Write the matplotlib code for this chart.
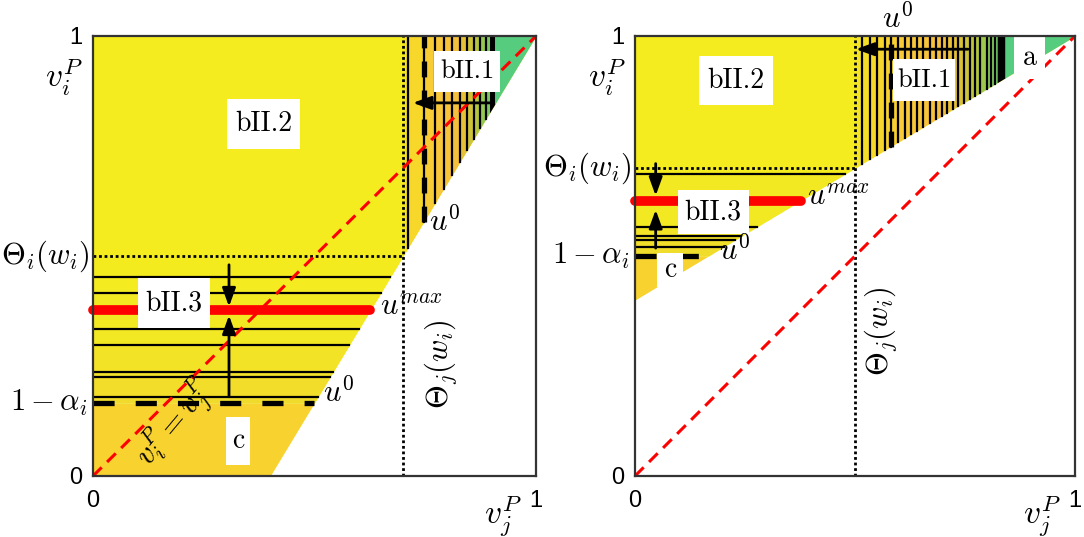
import matplotlib.pyplot as plt
import numpy as np
from matplotlib.colors import LinearSegmentedColormap
from matplotlib.path import Path

plt.rcParams["mathtext.fontset"] = "cm"
plt.rcParams["axes.formatter.use_mathtext"] = True

# boundary of the shaded region: left panel x = 0.4 + 0.6 y, right panel y = 0.4 + 0.6 x
edge_start = 0.4
edge_slope = 0.6

# left panel
L_theta_i = 0.5
L_theta_j = 0.7
L_one_minus_alpha = 0.166
L_u_max = 0.377
L_h_lines = [0.180, 0.225, 0.236, 0.298, 0.334, 0.416, 0.452]
L_v_lines = [0.711, 0.747, 0.772, 0.792, 0.810, 0.828, 0.844, 0.860, 0.874, 0.887]
L_black = [0.895, 0.907]
L_u0_line = 0.747

# right panel
R_theta_i = 0.7
R_theta_j = 0.5
R_one_minus_alpha = 0.5
R_u_max = 0.626
R_h_lines = [0.521, 0.536, 0.545, 0.566, 0.686]
R_v_lines = [0.517, 0.534, 0.550, 0.568, 0.581, 0.598, 0.614, 0.627, 0.641,
             0.655, 0.670, 0.684, 0.697, 0.708, 0.722, 0.734, 0.748, 0.761,
             0.773, 0.784, 0.799, 0.810, 0.818]
R_black = [0.823, 0.841]
R_u0_line = 0.581

YELLOW = "#F4EC1E"
GOLD = "#F8D22F"
GREEN = "#55CC7E"
stripe_cmap = LinearSegmentedColormap.from_list(
    "stripes",
    [(0, "#F3E626"), (0.15, "#F6D72A"), (0.35, "#F8C938"), (0.6, "#F6BF3E"),
     (0.72, "#E2C137"), (0.85, "#B8C63C"), (1.0, "#72CA68")],
)
band_cmap = LinearSegmentedColormap.from_list(
    "bands", [(0, "#F0DA2C"), (0.45, "#F3E824"), (1.0, YELLOW)]
)
serif = "cmr10"
MATH = 22


def box_style(padx, pady):
    # white label box, with more vertical padding than horizontal
    def style(x0, y0, width, height, mutation_size):
        px = padx * mutation_size
        py = pady * mutation_size
        verts = [(x0 - px, y0 - py), (x0 + width + px, y0 - py),
                 (x0 + width + px, y0 + height + py), (x0 - px, y0 + height + py),
                 (x0 - px, y0 - py)]
        return Path(verts, closed=True)
    return dict(boxstyle=style, facecolor="white", edgecolor="none")


def draw_panel(ax, flip, theta_i, theta_j, one_minus_alpha, u_max, h_lines, v_lines, black, u0_line):
    if flip:
        # region above y = 0.4 + 0.6 x
        def edge_x(y):
            return np.clip((np.asarray(y) - edge_start) / edge_slope, 0, 1)

        def edge_y(x):
            return np.clip(edge_start + edge_slope * np.asarray(x), 0, 1)
        y_bottom = edge_start
    else:
        def edge_x(y):
            return np.clip(edge_start + edge_slope * np.asarray(y), 0, 1)

        def edge_y(x):
            return np.clip((np.asarray(x) - edge_start) / edge_slope, 0, 1)
        y_bottom = 0.0

    # gold region below 1 - alpha
    yy = np.linspace(y_bottom, one_minus_alpha, 50)
    ax.fill_betweenx(yy, 0, edge_x(yy), color=GOLD, lw=0, zorder=1)
    # yellow region
    yy = np.linspace(one_minus_alpha, 1, 200)
    ax.fill_betweenx(yy, 0, edge_x(yy), color=YELLOW, lw=0, zorder=1)
    # horizontal bands between 1 - alpha and theta_i
    hedges = [one_minus_alpha] + list(h_lines) + [theta_i]
    for k in range(len(hedges) - 1):
        y0, y1 = hedges[k], hedges[k + 1]
        t = ((y0 + y1) / 2 - one_minus_alpha) / (theta_i - one_minus_alpha)
        yy = np.linspace(y0, y1, 10)
        ax.fill_betweenx(yy, 0, edge_x(yy), color=band_cmap(t), lw=0, zorder=1)

    # coloured stripes right of theta_j
    edges = [theta_j] + list(v_lines) + [black[0]]
    for k in range(len(edges) - 1):
        x0, x1 = edges[k], edges[k + 1]
        t = ((x0 + x1) / 2 - theta_j) / (black[0] - theta_j)
        xx = np.linspace(x0, x1, 10)
        ax.fill_between(xx, edge_y(xx), 1, color=stripe_cmap(t), lw=0, zorder=2)
    xx = np.linspace(black[0], black[1], 10)
    ax.fill_between(xx, edge_y(xx), 1, color="black", lw=0, zorder=2)
    xx = np.linspace(black[1], 1, 50)
    ax.fill_between(xx, edge_y(xx), 1, color=GREEN, lw=0, zorder=2)

    # horizontal lines between 1 - alpha and theta_i
    for y in h_lines:
        ax.plot([0, edge_x(y)], [y, y], color="black", lw=1.6, zorder=3)
    # vertical lines right of theta_j
    for x in v_lines:
        ax.plot([x, x], [edge_y(x), 1], color="black", lw=1.6, zorder=3)

    # thick dashed u^0 lines
    ax.plot([0, edge_x(one_minus_alpha)], [one_minus_alpha] * 2, color="black",
            lw=3.8, dashes=(4, 4), zorder=4)
    ax.plot([u0_line, u0_line], [edge_y(u0_line), 1], color="black",
            lw=3.8, dashes=(3, 2.5), zorder=4)

    # dotted theta lines
    ax.plot([0, theta_j], [theta_i, theta_i], color="black", lw=2, ls=(0, (1, 1)), zorder=4)
    ax.plot([theta_j, theta_j], [0, 1], color="black", lw=2, ls=(0, (1, 1)), zorder=4)

    # u max
    ax.plot([0, edge_x(u_max)], [u_max, u_max], color="#FF0000", lw=7,
            solid_capstyle="round", zorder=5, clip_on=False)

    # diagonal
    ax.plot([0, 1], [0, 1], color="#FF0000", lw=2.2, dashes=(4, 2.5), zorder=4)

    ax.set_xlim(0, 1)
    ax.set_ylim(0, 1)
    ax.set_xticks([0, 1])
    ax.set_yticks([0, 1])
    ax.set_xticklabels(["0", "1"], fontfamily="Liberation Sans", fontsize=17)
    ax.set_yticklabels(["0", "1"], fontfamily="Liberation Sans", fontsize=17)
    ax.tick_params(axis="x", length=0, pad=10)
    ax.tick_params(axis="y", length=0, pad=8)
    for s in ax.spines.values():
        s.set_color("#333333")
        s.set_linewidth(1.6)
        s.set_zorder(10)

    ax.text(-0.008, theta_i, r"$\Theta_i(w_i)$", fontsize=MATH, ha="right", va="center")
    ax.text(-0.012, one_minus_alpha, r"$1-\alpha_i$", fontsize=MATH, ha="right", va="center")
    ax.text(-0.022, 0.905, r"$v_i^P$", fontsize=24, ha="right", va="center")
    ax.text(0.925, -0.09, r"$v_j^P$", fontsize=24, ha="center", va="center")


fig = plt.figure(figsize=(10.84, 5.37), dpi=100)
ax1 = fig.add_axes([93 / 1084, 61 / 537, 443 / 1084, 440 / 537])
ax2 = fig.add_axes([635 / 1084, 61 / 537, 440 / 1084, 440 / 537])

draw_panel(ax1, False, L_theta_i, L_theta_j, L_one_minus_alpha, L_u_max,
           L_h_lines, L_v_lines, L_black, L_u0_line)
draw_panel(ax2, True, R_theta_i, R_theta_j, R_one_minus_alpha, R_u_max,
           R_h_lines, R_v_lines, R_black, R_u0_line)

arrow = dict(arrowstyle="-|>,head_length=1.1,head_width=0.4", color="black", lw=2,
             shrinkA=0, shrinkB=0)

# left panel annotations
ax1.annotate("", xy=(0.307, 0.385), xytext=(0.307, 0.48), arrowprops=arrow, zorder=6)
ax1.annotate("", xy=(0.307, 0.365), xytext=(0.307, 0.18), arrowprops=arrow, zorder=6)
ax1.annotate("", xy=(0.722, 0.848), xytext=(0.90, 0.848), arrowprops=arrow, zorder=6)
ax1.text(0.385, 0.80, "bII.2", family=serif, fontsize=20, ha="center", va="center",
         bbox=box_style(0.3, 0.41), zorder=8)
ax1.text(0.845, 0.92, "bII.1", family=serif, fontsize=19, ha="center", va="center",
         bbox=box_style(0.22, 0.33), zorder=8)
ax1.text(0.183, 0.393, "bII.3", family=serif, fontsize=20, ha="center", va="center",
         bbox=box_style(0.28, 0.42), zorder=8)
ax1.text(0.327, 0.08, "c", family=serif, fontsize=20, ha="center", va="center",
         bbox=box_style(0.22, 0.38), zorder=8)
ax1.text(0.648, 0.385, r"$u^{max}$", fontsize=MATH, ha="left", va="center", zorder=8)
ax1.text(0.52, 0.19, r"$u^0$", fontsize=MATH, ha="left", va="center", zorder=8)
ax1.text(0.795, 0.58, r"$u^0$", fontsize=MATH, ha="center", va="center", zorder=8)
ax1.text(0.785, 0.255, r"$\Theta_j(w_i)$", fontsize=MATH, rotation=90, ha="center", va="center", zorder=8)
ax1.text(0.185, 0.12, r"$v_i^P=v_j^P$", fontsize=MATH, rotation=50, ha="center", va="center", zorder=8)

# right panel annotations
ax2.annotate("", xy=(0.047, 0.637), xytext=(0.047, 0.71), arrowprops=arrow, zorder=6)
ax2.annotate("", xy=(0.047, 0.605), xytext=(0.047, 0.518), arrowprops=arrow, zorder=6)
ax2.annotate("", xy=(0.502, 0.97), xytext=(0.757, 0.97), arrowprops=arrow, zorder=6)
ax2.text(0.229, 0.899, "bII.2", family=serif, fontsize=20, ha="center", va="center",
         bbox=box_style(0.3, 0.41), zorder=8)
ax2.text(0.657, 0.90, "bII.1", family=serif, fontsize=19, ha="center", va="center",
         bbox=box_style(0.15, 0.33), zorder=8)
ax2.text(0.178, 0.599, "bII.3", family=serif, fontsize=20, ha="center", va="center",
         bbox=box_style(0.25, 0.32), zorder=8)
ax2.text(0.08, 0.468, "c", family=serif, fontsize=20, ha="center", va="center",
         bbox=box_style(0.25, 0.15), zorder=8)
ax2.text(0.897, 0.95, "a", family=serif, fontsize=20, ha="center", va="center",
         bbox=box_style(0.3, 0.3), zorder=8)
ax2.text(0.39, 0.635, r"$u^{max}$", fontsize=MATH, ha="left", va="center", zorder=8)
ax2.text(0.19, 0.513, r"$u^0$", fontsize=MATH, ha="left", va="center", zorder=8)
ax2.text(0.598, 1.04, r"$u^0$", fontsize=MATH, ha="center", va="center", zorder=8)
ax2.text(0.557, 0.33, r"$\Theta_j(w_i)$", fontsize=MATH, rotation=90, ha="center", va="center", zorder=8)

fig.savefig("out.png", dpi=100)
